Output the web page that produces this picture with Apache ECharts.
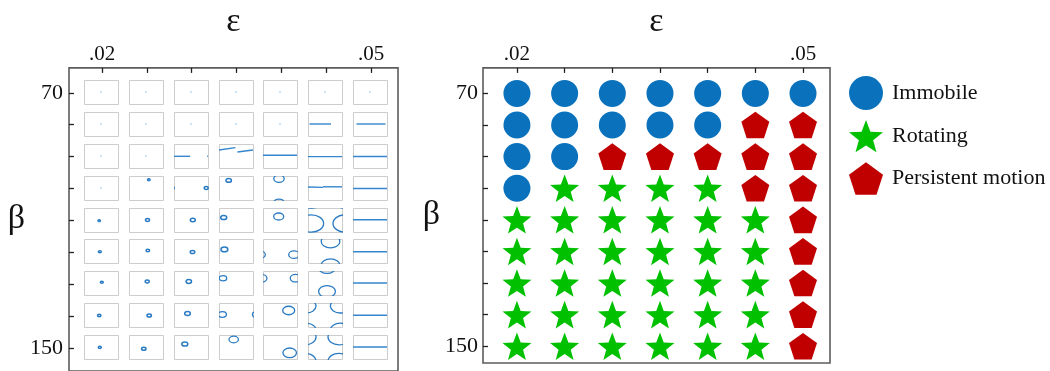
<!DOCTYPE html>
<html><head><meta charset="utf-8">
<script src="https://cdn.jsdelivr.net/npm/echarts@6/dist/echarts.min.js"></script>
<style>html,body{margin:0;padding:0;background:#fff}#c{width:1050px;height:371px}</style>
</head><body><div id="c"></div>
<script>
// ---- data ----
const epsValues = [0.02, 0.025, 0.03, 0.035, 0.04, 0.045, 0.05];
const betaValues = [70, 80, 90, 100, 110, 120, 130, 140, 150];
const xLabelValues = [0.02, 0.05];
const yLabelValues = [70, 150];
const classNames = ['Immobile', 'Rotating', 'Persistent motion'];
// rows = beta (70..150), columns = epsilon (.02...05); I immobile, R rotating, P persistent motion
const motionGrid = [
  'IIIIIII',
  'IIIIIPP',
  'IIPPPPP',
  'IRRRRPP',
  'RRRRRRP',
  'RRRRRRP',
  'RRRRRRP',
  'RRRRRRP',
  'RRRRRRP'
];
// small pictures inside each cell of the left panel (offsets from the cell centre)
// d = dot, f = filled blob [dx,dy,r], o = ring [dx,dy,r], l = segment [x1,y1,x2,y2]
const cellGlyphs = [
  [[['d']],[['d']],[['d']],[['d']],[['d']],[['d']],[['d']]],
  [[['d']],[['d']],[['d']],[['d']],[['d']],[['l',-15.5,0,6,0]],[['l',-13.5,0,15.5,0]]],
  [[['d']],[['d']],[['l',-17,0.3,-0.8,0.3],['l',16.2,0.3,17,0.3]],[['l',-17,-6,-0.6,-8.4],['l',1.4,-4,17,-6]],[['l',-17,-0.7,17,-0.7]],[['l',-17,0.6,17,0.6]],[['l',-17,0.5,17,0.5]]],
  [[['d']],[['f',2.8,-8.3,1.5]],[['o',15.2,0,2]],[['o',-7.3,-7.6,2.7]],[['o',-1,-9.3,5.2]],[['l',-17,-1,-2,-0.6],['l',-2,-1.2,17,-1.2]],[['l',-17,0.5,17,0.5]]],
  [[['f',-1.8,0.7,1.4]],[['o',1.5,0,2]],[['o',1.8,0,2.5]],[['o',-12.3,-2.5,3]],[['o',-1.3,-3.5,5]],[['o',20.3,3.5,12.3]],[['l',-17,-0.3,17,-0.3]]],
  [[['o',-1.2,0.7,1.5]],[['o',1.8,-0.6,1.8]],[['o',1.5,1,2.3]],[['o',-11.6,-1.6,3.4]],[['o',14,3.7,5.3]],[['o',5.5,-9.6,9.3]],[['l',-17,0.7,17,0.7]]],
  [[['o',0.8,-0.8,1.5]],[['o',1.2,-1.5,2]],[['o',-2.2,-1.5,2.7]],[['o',-13,-4.8,3.7]],[['o',15.6,-4.8,5.35]],[['o',2,8.5,8.4]],[['l',-17,0,17,0]]],
  [[['o',-1.8,0.5,1.7]],[['o',3.2,0.5,2.2]],[['o',-3.5,-1.5,2.8]],[['o',-13.6,-0.5,4]],[['o',8.7,-4.5,6]],[['o',15.2,-8.9,9.8]],[['l',-17,0.3,17,0.3]]],
  [[['o',-1.2,0.4,1.5]],[['o',-2.2,1.7,2.2]],[['o',-6.2,-3,3]],[['o',-2.3,-7.5,4.7]],[['o',9.7,5.8,6.8]],[['o',14,-9.9,11]],[['l',-17,0,17,0]]]
];

// ---- build ----
const FONT = '"Liberation Serif", "Times New Roman", serif';
const colors = {I: '#0a72bd', R: '#00c000', P: '#c00000'};
function polyPath(n, rOut, rIn) {
  const pts = [];
  const step = Math.PI / n;
  for (let i = 0; i < 2 * n; i++) {
    if (rIn == null && i % 2 === 1) continue;
    const r = (i % 2 === 0) ? rOut : rIn;
    const a = -Math.PI / 2 + i * step;
    pts.push((50 + r * Math.cos(a)).toFixed(2) + ' ' + (50 + r * Math.sin(a)).toFixed(2));
  }
  return 'path://M' + pts.join(' L') + ' Z';
}
const starSym = polyPath(5, 50, 21);
const pentSym = polyPath(5, 50, null);
const symbols = {I: 'circle', R: starSym, P: pentSym};
const sizes = {I: 27, R: 29, P: 28};

const cells = [];
const classPts = {I: [], R: [], P: []};
betaValues.forEach((b, ri) => {
  epsValues.forEach((e, ci) => {
    cells.push([e, b, ri * epsValues.length + ci]);
    classPts[motionGrid[ri][ci]].push([e, b]);
  });
});

const W = 34, H = 24;
const ringColor = '#2a7bc3';
function renderCell(params, api) {
  const idx = api.value(2);
  const ri = Math.floor(idx / epsValues.length), ci = idx % epsValues.length;
  const c = api.coord([api.value(0), api.value(1)]);
  const cx = Math.round(c[0]) - 1, cy = Math.round(c[1]) - 1;
  const items = cellGlyphs[ri][ci];
  const kids = [];
  items.forEach(it => {
    const t = it[0];
    if (t === 'd') {
      kids.push({type: 'circle', shape: {cx: cx, cy: cy, r: 0.7}, style: {fill: '#6db0e0'}});
    } else if (t === 'f') {
      kids.push({type: 'ellipse', shape: {cx: cx + it[1], cy: cy + it[2], rx: it[3], ry: it[3] / 1.3},
        style: {fill: '#4f98d3', stroke: ringColor, lineWidth: 1.1}});
    } else if (t === 'o') {
      const rx = it[3], ry = it[3] / 1.42;
      for (const ox of [-W, 0, W]) for (const oy of [-H, 0, H]) {
        const ex = it[1] + ox, ey = it[2] + oy;
        if (Math.abs(ex) - rx > W / 2 || Math.abs(ey) - ry > H / 2) continue;
        kids.push({type: 'ellipse', shape: {cx: cx + ex, cy: cy + ey, rx: rx, ry: ry},
          style: {fill: 'none', stroke: ringColor, lineWidth: rx < 3.5 ? 1.5 : 1.3}});
      }
    } else if (t === 'l') {
      kids.push({type: 'line', shape: {x1: cx + it[1], y1: cy + it[2], x2: cx + it[3], y2: cy + it[4]},
        style: {stroke: '#3586cd', lineWidth: 1.4}});
    }
  });
  return {
    type: 'group',
    children: [
      {type: 'rect', shape: {x: cx - W / 2 + 0.5, y: cy - H / 2 + 0.5, width: W, height: H},
        style: {fill: 'none', stroke: '#cdcdcd', lineWidth: 1}},
      {type: 'group', clipPath: {type: 'rect', shape: {x: cx - W / 2, y: cy - H / 2, width: W + 1, height: H + 1}},
        children: kids}
    ]
  };
}

const labelFmtX = v => (+v).toFixed(2).replace(/^0/, '');
function xAxisCfg(gridIndex, min, max) {
  return {
    type: 'value', gridIndex: gridIndex, position: 'top', min: min, max: max,
    name: 'ε', nameLocation: 'middle', nameGap: 24,
    nameTextStyle: {fontFamily: FONT, fontSize: 34, color: '#111'},
    axisLine: {show: false},
    splitLine: {show: false},
    axisTick: {show: true, inside: true, length: 5, customValues: epsValues, lineStyle: {color: '#222', width: 1.3}},
    axisLabel: {show: true, customValues: xLabelValues, formatter: labelFmtX, margin: 3,
      fontFamily: FONT, fontSize: 21, color: '#111'}
  };
}
function yAxisCfg(gridIndex, min, max, nameGap, margin) {
  return {
    type: 'value', gridIndex: gridIndex, inverse: true, min: min, max: max,
    name: 'β', nameLocation: 'middle', nameGap: nameGap, nameRotate: 0,
    nameTextStyle: {fontFamily: FONT, fontSize: 34, color: '#111'},
    axisLine: {show: false},
    splitLine: {show: false},
    axisTick: {show: true, inside: true, length: 5, customValues: betaValues, lineStyle: {color: '#222', width: 1.3}},
    axisLabel: {show: true, customValues: yLabelValues, margin: margin,
      fontFamily: FONT, fontSize: 22, color: '#111'}
  };
}

const chart = echarts.init(document.getElementById('c'), null, {renderer: 'canvas'});
chart.setOption({
  backgroundColor: '#fff',
  animation: false,
  grid: [
    {left: 69, top: 62, width: 329, height: 318, show: true, borderColor: '#5c5c5c', borderWidth: 1.6, backgroundColor: 'transparent'},
    {left: 483, top: 62, width: 347, height: 301, show: true, borderColor: '#5c5c5c', borderWidth: 1.6, backgroundColor: 'transparent'}
  ],
  xAxis: [xAxisCfg(0, 0.01632, 0.053), xAxisCfg(1, 0.01644, 0.05283)],
  yAxis: [yAxisCfg(0, 62.2, 157.13, 38, 6), yAxisCfg(1, 61.94, 155.3, 38, 5)],
  legend: {
    orient: 'vertical', left: 844, top: 71, itemWidth: 34, itemHeight: 34, itemGap: 10,
    selectedMode: false,
    textStyle: {fontFamily: FONT, fontSize: 22, color: '#111', padding: [0, 0, 0, 4]},
    data: classNames.map((n, i) => ({name: n, icon: symbols['IRP'[i]]}))
  },
  series: [
    {type: 'custom', xAxisIndex: 0, yAxisIndex: 0, data: cells, renderItem: renderCell, silent: true},
  ].concat('IRP'.split('').map((k, i) => ({
    type: 'scatter', name: classNames[i], xAxisIndex: 1, yAxisIndex: 1,
    symbol: symbols[k], symbolSize: sizes[k], symbolKeepAspect: true,
    itemStyle: {color: colors[k], opacity: 1}, data: classPts[k], silent: true
  })))
});
</script></body></html>
